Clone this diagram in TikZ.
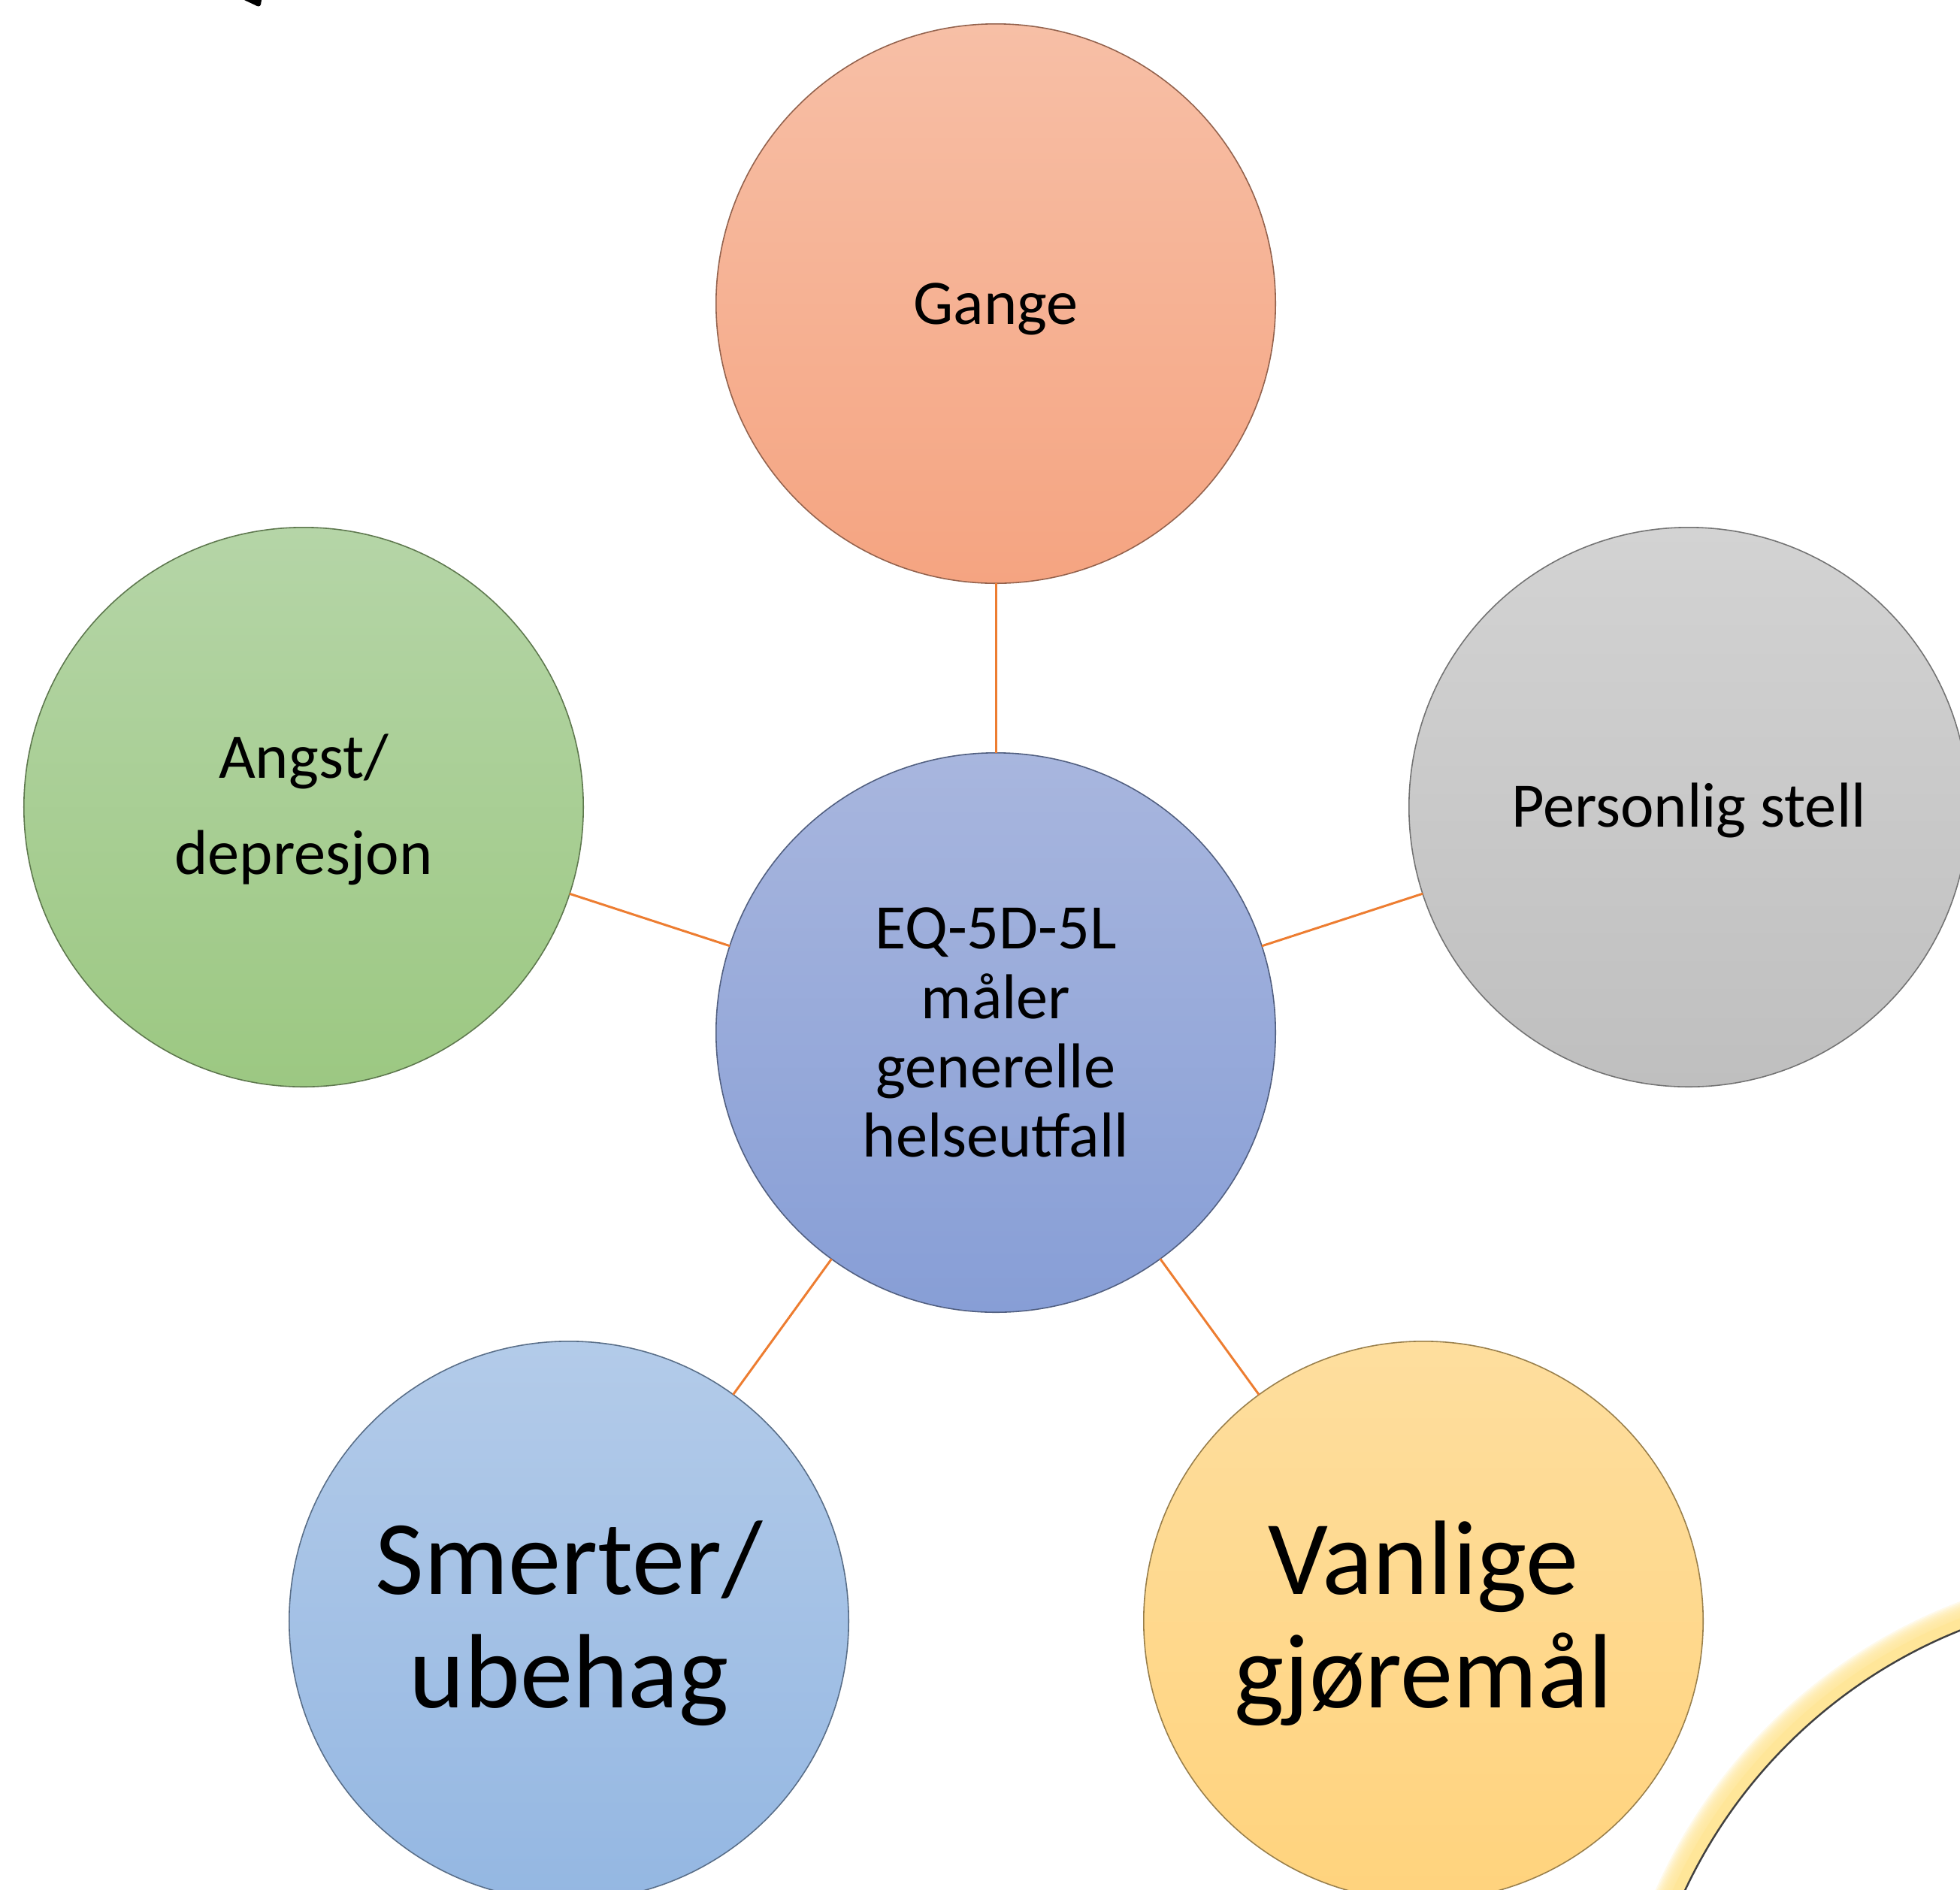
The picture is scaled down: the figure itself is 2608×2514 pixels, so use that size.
\documentclass[tikz,border=0pt]{standalone}
\usepackage{fontspec}
\setmainfont{Carlito}
\definecolor{gTop}{HTML}{F7BFA6}
\definecolor{gBot}{HTML}{F5A481}
\definecolor{cTop}{HTML}{A8B6DE}
\definecolor{cBot}{HTML}{879ED6}
\definecolor{aTop}{HTML}{B5D5A7}
\definecolor{aBot}{HTML}{9CC882}
\definecolor{pTop}{HTML}{D3D3D3}
\definecolor{pBot}{HTML}{BFBFBF}
\definecolor{sTop}{HTML}{B3CBE9}
\definecolor{sBot}{HTML}{94B7E2}
\definecolor{vTop}{HTML}{FEDE9E}
\definecolor{vBot}{HTML}{FFD37D}
\definecolor{linkorange}{HTML}{ED7D31}
\definecolor{glowy}{HTML}{FFE699}
\begin{document}
\begin{tikzpicture}[x=0.01cm,y=-0.01cm,
  bub/.style={circle, minimum size=7.44cm, inner sep=0pt, outer sep=0pt,
    align=center, text=black, line width=0.45pt},
  shadeg/.style 2 args={top color=#1, bottom color=#2, draw=#2!60!black},
  link/.style={draw=linkorange, line width=0.85pt},
  smalltxt/.style={font=\fontsize{24}{26.2}\selectfont},
  widetxt/.style={font=\fontsize{24}{36.5}\selectfont},
  bigtxt/.style={font=\fontsize{40}{43}\selectfont}]
\useasboundingbox (0,0) rectangle (2608,2514);
\clip (0,0) rectangle (2608,2514);

% large glowing ring at bottom right
\coordinate (ring) at (2863,2806);
\foreach \w in {16,18,...,36}
  \draw[glowy, opacity=0.2, line width=\w*0.2845pt] (ring) circle[radius={6.85cm+\w*0.005cm}];
\draw[glowy, line width=15*0.2845pt] (ring) circle[radius=6.925cm];
\draw[black!75, line width=0.7pt] (ring) circle[radius=6.85cm];

% small black fragment at top
\fill[black] (325,0) -- (348,0) -- (347,6) .. controls (346,9) and (343,9) .. (340,7) -- cycle;

% bubbles
\node[bub, smalltxt, shadeg={cTop}{cBot}] (c) at (1325,1374) {EQ-5D-5L\\måler\\generelle\\helseutfall};
\node[bub, smalltxt, text depth=0pt, shadeg={gTop}{gBot}] (g) at (1325,404) {Gange};
\node[bub, widetxt, text depth=0.08cm, shadeg={aTop}{aBot}] (a) at (404,1074) {Angst/\\depresjon};
\node[bub, smalltxt, text depth=0.05cm, shadeg={pTop}{pBot}] (p) at (2247,1074) {Personlig stell};
\node[bub, bigtxt, text depth=0.18cm, shadeg={sTop}{sBot}] (s) at (757,2157) {Smerter/\\ubehag};
\node[bub, bigtxt, text depth=0.18cm, shadeg={vTop}{vBot}] (v) at (1894,2157) {Vanlige\\gjøremål};

% connectors
\draw[link] (c) -- (g);
\draw[link] (c) -- (a);
\draw[link] (c) -- (p);
\draw[link] (c) -- (s);
\draw[link] (c) -- (v);
\end{tikzpicture}
\end{document}
